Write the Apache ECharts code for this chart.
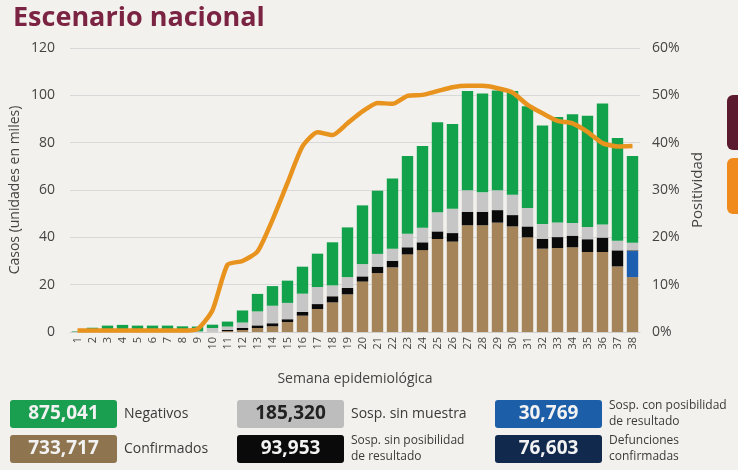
<!DOCTYPE html>
<html>
<head>
<meta charset="utf-8">
<script src="https://cdn.jsdelivr.net/npm/echarts@6/dist/echarts.min.js"></script>
<style>
  html, body { margin: 0; padding: 0; background: #f3f1ed; }
  #main { width: 738px; height: 470px; }
</style>
</head>
<body>
<div id="main"></div>
<script>
// semanas epidemiológicas 1..38
var semanas = [];
for (var i = 1; i <= 38; i++) semanas.push(String(i));

// casos en miles
var confirmados = [0, 0, 0, 0, 0, 0, 0, 0, 0, 0.1, 0.4, 0.85, 1.7, 2.4, 4.2, 6.9, 9.7, 12.5, 15.9, 21.3,
    24.9, 27.3, 32.8, 34.6, 39.3, 38.2, 45.1, 45.1, 46.2, 44.6, 40.0, 35.2, 35.5, 35.8, 33.8, 33.8, 27.7, 23.2];
var conPosibilidad = [0, 0, 0, 0, 0, 0, 0, 0, 0, 0, 0, 0, 0, 0, 0, 0, 0, 0, 0, 0,
    0, 0, 0, 0, 0, 0, 0, 0, 0, 0, 0, 0, 0, 0, 0, 0, 0, 11.0];
var sinPosibilidad = [0, 0, 0, 0, 0, 0, 0, 0, 0, 0, 0.45, 0.85, 1.1, 1.3, 1.2, 1.6, 2.1, 2.6, 2.7, 2.2,
    2.7, 2.8, 3.0, 3.3, 3.2, 3.6, 5.6, 5.7, 5.3, 4.8, 4.6, 4.2, 4.6, 4.9, 5.4, 6.1, 6.8, 0.3];
var sinMuestra = [0.2, 0.3, 0.3, 0.3, 0.3, 0.3, 0.3, 0.3, 0.3, 1.6, 1.45, 2.3, 5.9, 7.4, 6.9, 7.7, 7.2, 4.6, 4.6, 5.2,
    5.4, 5.1, 5.7, 6.2, 8.1, 10.3, 9.2, 8.2, 8.4, 8.6, 7.8, 6.2, 6.2, 5.4, 5.2, 5.5, 4.1, 3.2];
var negativos = [0.2, 1.5, 2.4, 2.7, 2.4, 2.4, 2.4, 2.1, 2.0, 1.4, 2.1, 5.1, 7.4, 8.3, 9.4, 11.4, 14.1, 18.2, 21.0, 24.8,
    26.7, 29.7, 32.9, 34.5, 38.0, 35.8, 41.9, 41.8, 42.1, 43.8, 43.0, 41.7, 44.5, 45.9, 47.0, 51.1, 43.4, 36.7];

// positividad en %
var positividad = [0.3, 0.3, 0.3, 0.3, 0.3, 0.3, 0.3, 0.3, 0.6, 4.6, 14.2, 15.0, 17.0, 23.7, 31.5, 39.2, 42.2, 41.6, 44.1, 46.6,
    48.4, 48.2, 49.9, 50.1, 50.9, 51.7, 52.0, 52.0, 51.5, 50.6, 48.0, 46.2, 44.6, 44.1, 42.3, 39.9, 39.2, 39.3];

// totales del recuadro inferior
var totales = ['875,041', '185,320', '30,769', '733,717', '93,953', '76,603'];
var etiquetas = ['Negativos', 'Sosp. sin muestra', 'Sosp. con posibilidad\nde resultado',
    'Confirmados', 'Sosp. sin posibilidad\nde resultado', 'Defunciones\nconfirmadas'];

var fuente = 'Open Sans';
var colores = ['#1a9e50', '#bdbdbd', '#1c5ea8', '#8e7550', '#0a0a0a', '#10294d'];
var colorNumero = ['#f2f2f2', '#222222', '#f2f2f2', '#f2f2f2', '#f2f2f2', '#f2f2f2'];

var cajas = [];
for (var k = 0; k < 6; k++) {
    var col = k % 3, fila = Math.floor(k / 3);
    var x0 = [10, 237, 495][col];
    var y0 = [400, 435][fila];
    cajas.push({
        type: 'rect',
        shape: { x: x0, y: y0, width: 107, height: 28, r: 3 },
        style: { fill: colores[k] }
    });
    cajas.push({
        type: 'text',
        x: x0 + 53.5, y: y0 + 14,
        style: {
            text: totales[k], fill: colorNumero[k], font: 'bold 19px "' + fuente + '"',
            align: 'center', verticalAlign: 'middle'
        }
    });
    var dosLineas = etiquetas[k].indexOf('\n') >= 0;
    cajas.push({
        type: 'text',
        x: x0 + 114, y: y0 + 14,
        style: {
            text: etiquetas[k], fill: '#3a3a3a',
            font: (dosLineas ? '12px' : '14px') + ' "' + fuente + '"',
            lineHeight: dosLineas ? 16 : 18,
            align: 'left', verticalAlign: 'middle'
        }
    });
}
// recuadros recortados del borde derecho
cajas.push({ type: 'rect', shape: { x: 727, y: 95, width: 20, height: 55, r: 6 }, style: { fill: '#5b1a2e' } });
cajas.push({ type: 'rect', shape: { x: 727, y: 158, width: 20, height: 56, r: 6 }, style: { fill: '#f08a1c' } });

var myChart = echarts.init(document.getElementById('main'));

var option = {
    backgroundColor: '#f3f1ed',
    animation: false,
    textStyle: { fontFamily: fuente },
    title: {
        text: 'Escenario nacional',
        left: 8,
        top: 0,
        textStyle: { color: '#7b2342', fontSize: 27, fontWeight: 'bold', fontFamily: fuente }
    },
    grid: { left: 68, right: 98, top: 48, bottom: 138 },
    xAxis: {
        type: 'category',
        data: semanas,
        name: 'Semana epidemiológica',
        nameLocation: 'middle',
        nameGap: 40,
        nameTextStyle: { color: '#444', fontSize: 14 },
        axisLine: { lineStyle: { color: '#d0d0d0' } },
        axisTick: { show: false },
        axisLabel: { rotate: 90, color: '#444', fontSize: 11, margin: 5, interval: 0 }
    },
    yAxis: [
        {
            type: 'value',
            min: 0, max: 120, interval: 20,
            name: 'Casos (unidades en miles)',
            nameLocation: 'middle',
            nameRotate: 90,
            nameGap: 48,
            nameMoveOverlap: false,
            nameTextStyle: { color: '#444', fontSize: 14 },
            axisLabel: { color: '#444', fontSize: 14, margin: 15 },
            axisLine: { show: false },
            axisTick: { show: false },
            splitLine: { lineStyle: { color: '#d8d8d8' } }
        },
        {
            type: 'value',
            min: 0, max: 60, interval: 10,
            name: 'Positividad',
            nameLocation: 'middle',
            nameRotate: 90,
            nameGap: 50,
            nameMoveOverlap: false,
            nameTextStyle: { color: '#444', fontSize: 15 },
            axisLabel: { color: '#444', fontSize: 14, margin: 12, formatter: '{value}%' },
            axisLine: { show: false },
            axisTick: { show: false },
            splitLine: { show: false }
        }
    ],
    series: [
        { name: 'Confirmados', type: 'bar', stack: 'casos', barWidth: '76%', data: confirmados, itemStyle: { color: '#a6845a' } },
        { name: 'Sosp. con posibilidad de resultado', type: 'bar', stack: 'casos', data: conPosibilidad, itemStyle: { color: '#1c5eb0' } },
        { name: 'Sosp. sin posibilidad de resultado', type: 'bar', stack: 'casos', data: sinPosibilidad, itemStyle: { color: '#0a0a0a' } },
        { name: 'Sosp. sin muestra', type: 'bar', stack: 'casos', data: sinMuestra, itemStyle: { color: '#c6c6c6' } },
        { name: 'Negativos', type: 'bar', stack: 'casos', data: negativos, itemStyle: { color: '#13a24c' } },
        {
            name: 'Positividad',
            type: 'line',
            yAxisIndex: 1,
            data: positividad,
            smooth: 0.2,
            showSymbol: false,
            lineStyle: { color: '#e8931e', width: 4.5 },
            z: 5
        }
    ],
    graphic: cajas
};

myChart.setOption(option);
</script>
</body>
</html>
